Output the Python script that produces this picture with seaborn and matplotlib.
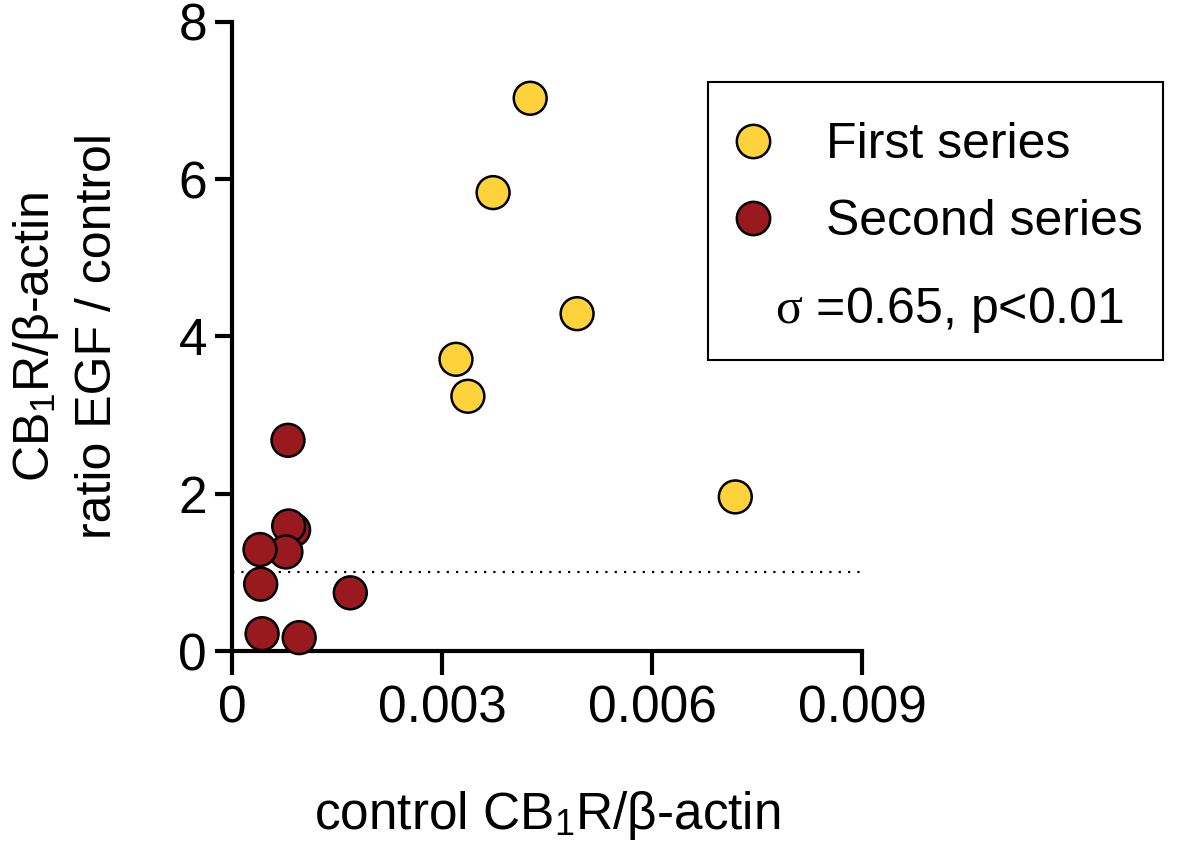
import matplotlib
matplotlib.use("Agg")
import matplotlib.pyplot as plt
from matplotlib.lines import Line2D
from matplotlib.patches import Rectangle
import seaborn as sns
import pandas as pd

# data
first_x = [0.00426, 0.00373, 0.00493, 0.00320, 0.00337, 0.00719]
first_y = [7.03, 5.83, 4.29, 3.71, 3.24, 1.96]
second_x = [0.00088, 0.00081, 0.00077, 0.00040, 0.00080, 0.00041, 0.00169, 0.00043, 0.00096]
second_y = [1.54, 1.59, 1.26, 1.29, 2.68, 0.85, 0.74, 0.22, 0.17]
series_names = ["First series", "Second series"]
series_colors = ["#FDD23B", "#981A1E"]
x_ticks = [0, 0.003, 0.006, 0.009]
x_ticklabels = ["0", "0.003", "0.006", "0.009"]
y_ticks = [0, 2, 4, 6, 8]
stat_text = r"$\sigma$ =0.65, p<0.01"

sns.set_style("ticks")
plt.rcParams["font.family"] = ["Liberation Sans", "DejaVu Sans"]
plt.rcParams["mathtext.fontset"] = "custom"
plt.rcParams["mathtext.rm"] = "Liberation Sans"
plt.rcParams["mathtext.it"] = "Liberation Serif"
for k in ["text.color", "axes.labelcolor", "xtick.color", "ytick.color", "axes.edgecolor"]:
    plt.rcParams[k] = "black"

df = pd.DataFrame({
    "x": first_x + second_x,
    "y": first_y + second_y,
    "series": [series_names[0]] * len(first_x) + [series_names[1]] * len(second_x),
})
palette = dict(zip(series_names, series_colors))

fig = plt.figure(figsize=(12, 8.48), dpi=100)
ax = fig.add_axes([0.19333, 0.23231, 0.525, 0.74175])

ax.axhline(1, color="black", lw=1.6, linestyle=(0, (1, 3.2)), zorder=1)
sns.scatterplot(data=df, x="x", y="y", hue="series", palette=palette, s=560,
                edgecolor="black", linewidth=1.8, legend=False, clip_on=False,
                zorder=3, ax=ax)

ax.set_xlim(0, 0.009)
ax.set_ylim(0, 8)
ax.set_xticks(x_ticks)
ax.set_xticklabels(x_ticklabels)
ax.set_yticks(y_ticks)
sns.despine(ax=ax)
for s in ["left", "bottom"]:
    ax.spines[s].set_linewidth(3)
ax.tick_params(axis="x", length=17, width=3, pad=7, labelsize=37)
ax.tick_params(axis="y", length=12, width=3, pad=6, labelsize=37)

ax.set_xlabel("control CB$_1$R/β-actin", fontsize=37, labelpad=40)
ax.set_ylabel("CB$_1$R/β-actin\nratio EGF / control", fontsize=36, labelpad=41,
              linespacing=1.4)

# legend box
fig.patches.append(Rectangle((708 / 1200, 1 - 360 / 848), 455 / 1200, 278 / 848,
                             transform=fig.transFigure, fill=False,
                             edgecolor="black", lw=1.5))
handles = [Line2D([], [], marker="o", linestyle="none", markersize=24,
                  markerfacecolor=c, markeredgecolor="black", markeredgewidth=1.8)
           for c in series_colors]
fig.legend(handles, series_names, loc="upper left",
           bbox_to_anchor=(715 / 1200, 1 - 122 / 848), frameon=False,
           fontsize=36, handlelength=1.5, handletextpad=0.73,
           labelspacing=0.62, borderpad=0, borderaxespad=0)
fig.text(949 / 1200, 1 - 323 / 848, stat_text, fontsize=36, ha="center",
         va="baseline")

fig.savefig("out.png", dpi=100)
